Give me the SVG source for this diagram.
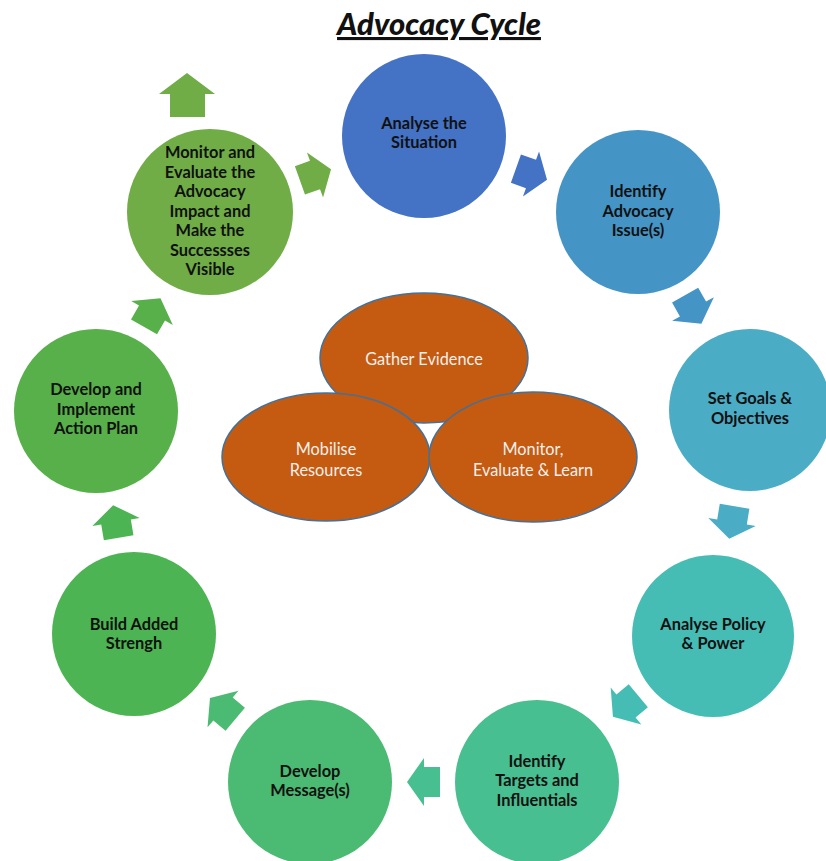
<svg xmlns="http://www.w3.org/2000/svg" width="826" height="861" viewBox="0 0 826 861">
<defs>
<polygon id="arr" points="-16,-15 0,-15 0,-24 17,0 0,24 0,15 -16,15"/>
</defs>
<style>
.t{font-family:Lato,"Liberation Sans",sans-serif;font-weight:bold;font-size:16.4px;fill:#111;text-anchor:middle}
.e{fill:#C55A11;stroke:#41719C;stroke-width:1.5}
.et{font-family:Lato,"Liberation Sans",sans-serif;font-size:16.3px;fill:#F4F0EC;text-anchor:middle}
</style>
<rect width="826" height="861" fill="#fff"/>
<text x="439" y="35" font-family="Lato,'Liberation Sans',sans-serif" font-weight="900" font-style="italic" font-size="31" text-anchor="middle" fill="#111" text-decoration="underline">Advocacy Cycle</text>

<g id="connectors">
<use href="#arr" transform="translate(531,174) rotate(19.6)" fill="#4472C4"/>
<use href="#arr" transform="translate(693,309) rotate(60.5)" fill="#4594C6"/>
<use href="#arr" transform="translate(732,522) rotate(99.3)" fill="#4BACC6"/>
<use href="#arr" transform="translate(626,706) rotate(140.3)" fill="#46BDB4"/>
<use href="#arr" transform="translate(424,782) rotate(180)" fill="#48BF90"/>
<use href="#arr" transform="translate(223,709) rotate(220.1)" fill="#4BBA72"/>
<use href="#arr" transform="translate(116,522) rotate(-99.6)" fill="#4CB452"/>
<use href="#arr" transform="translate(152,313) rotate(-60.1)" fill="#57B049"/>
<use href="#arr" transform="translate(315,175) rotate(-19.6)" fill="#70AD47"/>
<polygon points="187,73 215,94 205,94 205,117 170,117 170,94 159,94" fill="#70AD47"/>
</g>

<g id="n1"><circle cx="424" cy="136" r="82" fill="#4472C4"/>
<text class="t" x="424" y="129">Analyse the</text><text class="t" x="424" y="148">Situation</text></g>
<g id="n2"><circle cx="638" cy="212" r="82" fill="#4594C6"/>
<text class="t" x="638" y="197">Identify</text><text class="t" x="638" y="217">Advocacy</text><text class="t" x="638" y="236">Issue(s)</text></g>
<g id="n3"><circle cx="750" cy="410" r="81" fill="#4BACC6"/>
<text class="t" x="750" y="404">Set Goals &amp;</text><text class="t" x="750" y="424">Objectives</text></g>
<g id="n4"><circle cx="713" cy="636" r="81" fill="#46BDB4"/>
<text class="t" x="713" y="630">Analyse Policy</text><text class="t" x="713" y="649">&amp; Power</text></g>
<g id="n5"><circle cx="537" cy="782" r="82" fill="#48BF90"/>
<text class="t" x="537" y="767">Identify</text><text class="t" x="537" y="786">Targets and</text><text class="t" x="537" y="806">Influentials</text></g>
<g id="n6"><circle cx="310" cy="782" r="82" fill="#4BBA72"/>
<text class="t" x="310" y="777">Develop</text><text class="t" x="310" y="796">Message(s)</text></g>
<g id="n7"><circle cx="134" cy="634" r="82" fill="#4CB452"/>
<text class="t" x="134" y="630">Build Added</text><text class="t" x="134" y="649">Strengh</text></g>
<g id="n8"><circle cx="96" cy="411" r="82" fill="#57B049"/>
<text class="t" x="96" y="395">Develop and</text><text class="t" x="96" y="415">Implement</text><text class="t" x="96" y="434">Action Plan</text></g>
<g id="n9"><circle cx="210" cy="212" r="83" fill="#70AD47"/>
<text class="t" x="210" y="158">Monitor and</text><text class="t" x="210" y="178">Evaluate the</text><text class="t" x="210" y="197">Advocacy</text><text class="t" x="210" y="217">Impact and</text><text class="t" x="210" y="236">Make the</text><text class="t" x="210" y="256">Successses</text><text class="t" x="210" y="275">Visible</text></g>

<g id="e1"><ellipse class="e" cx="424" cy="358" rx="104" ry="65"/>
<text class="et" x="424" y="365">Gather Evidence</text></g>
<g id="e2"><ellipse class="e" cx="326" cy="457" rx="104" ry="64"/>
<text class="et" x="326" y="455">Mobilise</text><text class="et" x="326" y="476">Resources</text></g>
<g id="e3"><ellipse class="e" cx="533" cy="457" rx="104" ry="65"/>
<text class="et" x="533" y="455">Monitor,</text><text class="et" x="533" y="476">Evaluate &amp; Learn</text></g>
</svg>
